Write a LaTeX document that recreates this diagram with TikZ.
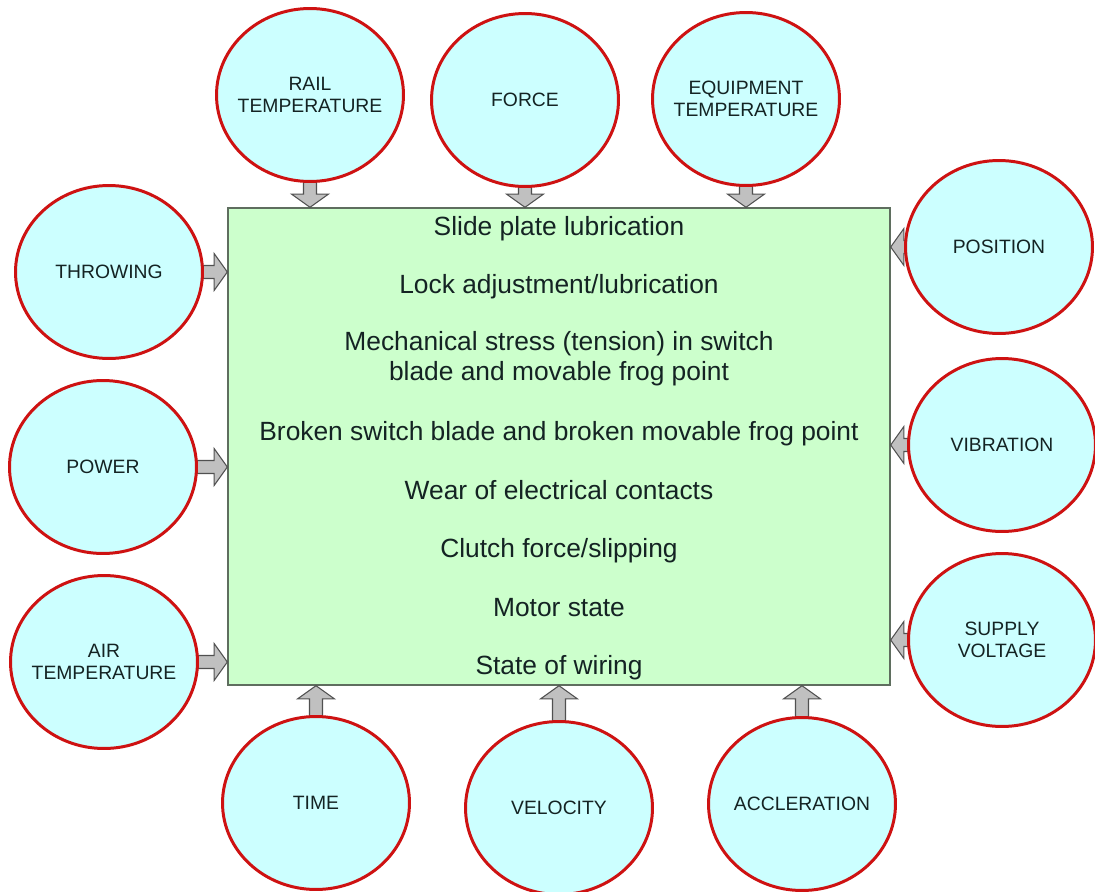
\documentclass[tikz,border=0pt]{standalone}
\usepackage{fontspec}
\setmainfont{Liberation Sans}
\usetikzlibrary{shapes.geometric,calc}
\definecolor{cfill}{RGB}{204,255,255}
\definecolor{cline}{RGB}{206,18,18}
\definecolor{rfill}{RGB}{204,255,204}
\definecolor{rline}{RGB}{95,110,95}
\definecolor{afill}{RGB}{192,192,192}
\definecolor{aline}{RGB}{80,80,80}
\definecolor{tcol}{RGB}{20,35,35}
\pgfdeclarelayer{back}
\pgfdeclarelayer{mid}
\pgfsetlayers{back,mid,main}
\tikzset{
 circ/.style={ellipse, draw=cline, fill=cfill, line width=1.7pt, minimum width=3.74cm, minimum height=3.46cm, inner sep=0pt},
 ctext/.style={align=center, font=\fontsize{11}{12.5}\selectfont, text=tcol, inner sep=0pt},
 mainbox/.style={rectangle, draw=rline, fill=rfill, line width=0.85pt, minimum width=13.24cm, minimum height=9.54cm},
 item/.style={font=\fontsize{15}{17}\selectfont, text=tcol, align=center, inner sep=0pt},
 barrow/.style={draw=aline, fill=afill, line width=0.6pt, line join=miter},
}
\newcommand\blockarrow[2]{%
 \path[barrow] let \p1=(#1), \p2=(#2),
  \n1={veclen(\x2-\x1,\y2-\y1)},
  \n2={(\x2-\x1)/\n1}, \n3={(\y2-\y1)/\n1},
  \p3=({\x1-4pt*\n2},{\y1-4pt*\n3}),
  \p4=({\x2-7.5pt*\n2},{\y2-7.5pt*\n3})
 in ({\x3-3.7pt*\n3},{\y3+3.7pt*\n2}) -- ({\x4-3.7pt*\n3},{\y4+3.7pt*\n2})
  -- ({\x4-10.5pt*\n3},{\y4+10.5pt*\n2}) -- (\p2)
  -- ({\x4+10.5pt*\n3},{\y4-10.5pt*\n2}) -- ({\x4+3.7pt*\n3},{\y4-3.7pt*\n2})
  -- ({\x3+3.7pt*\n3},{\y3-3.7pt*\n2}) -- cycle;}
\begin{document}
\begin{tikzpicture}[x=0.02cm,y=-0.02cm]
\useasboundingbox (0,0) rectangle (1095,892);
\begin{pgfonlayer}{back}
\fill[white] (0,0) rectangle (1095,892);
\node[mainbox] (main) at (559,446.5) {};
\end{pgfonlayer}
% main text
\node[item, anchor=base] (t1) at (559,235.5) {Slide plate lubrication};
\node[item, anchor=base] (t2) at (559,293.5) {Lock adjustment/lubrication};
\node[item] (t3) at (559,359) {Mechanical stress (tension) in switch\\blade and movable frog point};
\node[item, anchor=base] (t4) at (559,440.5) {Broken switch blade and broken movable frog point};
\node[item, anchor=base] (t5) at (559,499.5) {Wear of electrical contacts};
\node[item, anchor=base] (t6) at (559,557.5) {Clutch force/slipping};
\node[item, anchor=base] (t7) at (559,616.5) {Motor state};
\node[item, anchor=base] (t8) at (559,674.5) {State of wiring};
% circles
\node[circ, label={[ctext]center:RAIL\\TEMPERATURE}] (rail) at (310,95) {};
\node[circ, label={[ctext]center:FORCE}] (force) at (525,100) {};
\node[circ, label={[ctext]center:EQUIPMENT\\TEMPERATURE}] (equip) at (746,99) {};
\node[circ, label={[ctext]center:POSITION}] (pos) at (999,247) {};
\node[circ, label={[ctext]center:VIBRATION}] (vib) at (1002,445) {};
\node[circ, label={[ctext]center:SUPPLY\\VOLTAGE}] (sup) at (1002,640) {};
\node[circ, label={[ctext]center:THROWING}] (thr) at (109,272) {};
\node[circ, label={[ctext]center:POWER}] (pow) at (103,467) {};
\node[circ, label={[ctext]center:AIR\\TEMPERATURE}] (air) at (104,662) {};
\node[circ, label={[ctext]center:TIME}] (time) at (316,803) {};
\node[circ, label={[ctext]center:VELOCITY}] (vel) at (559,808) {};
\node[circ, label={[ctext]center:ACCLERATION}] (acc) at (802,804) {};
% arrows
\begin{pgfonlayer}{mid}
\blockarrow{rail.south}{rail.south |- main.north}
\blockarrow{force.south}{force.south |- main.north}
\blockarrow{equip.south}{equip.south |- main.north}
\blockarrow{thr.east}{thr.east -| main.west}
\blockarrow{pow.east}{pow.east -| main.west}
\blockarrow{air.east}{air.east -| main.west}
\blockarrow{pos.west}{pos.west -| main.east}
\blockarrow{vib.west}{vib.west -| main.east}
\blockarrow{sup.west}{sup.west -| main.east}
\blockarrow{time.north}{time.north |- main.south}
\blockarrow{vel.north}{vel.north |- main.south}
\blockarrow{acc.north}{acc.north |- main.south}
\end{pgfonlayer}
\end{tikzpicture}
\end{document}
